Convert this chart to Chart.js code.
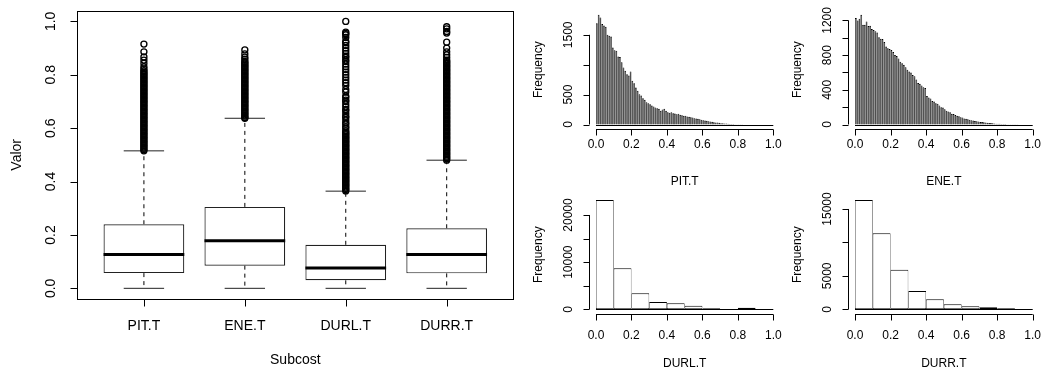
<!DOCTYPE html>
<html>
<head>
<meta charset="utf-8">
<script src="https://cdn.jsdelivr.net/npm/chart.js@4.4.1/dist/chart.umd.min.js"></script>
<style>
  html, body { margin: 0; padding: 0; background: #fff; }
  #wrap { position: relative; width: 1045px; height: 374px; }
  #wrap canvas { position: absolute; left: 0; top: 0; }
</style>
</head>
<body>
<div id="wrap">
  <canvas id="boxChart" width="1045" height="374"></canvas>
  <canvas id="histPit" width="1045" height="374"></canvas>
  <canvas id="histEne" width="1045" height="374"></canvas>
  <canvas id="histDurl" width="1045" height="374"></canvas>
  <canvas id="histDurr" width="1045" height="374"></canvas>
</div>
<script>
// Boxplot data
const subcosts = ['PIT.T', 'ENE.T', 'DURL.T', 'DURR.T'];
const boxLow = [0, 0, 0, 0];
const boxQ1 = [0.057, 0.085, 0.030, 0.056];
const boxMedian = [0.127, 0.178, 0.076, 0.127];
const boxQ3 = [0.240, 0.305, 0.163, 0.225];
const boxHigh = [0.515, 0.637, 0.364, 0.480];

const outPit = [0.515, 0.52, 0.525, 0.53, 0.535, 0.54, 0.545, 0.55, 0.555, 0.56, 0.565, 0.57, 0.575, 0.58, 0.585,
  0.59, 0.595, 0.6, 0.605, 0.61, 0.615, 0.62, 0.625, 0.63, 0.635, 0.64, 0.645, 0.65, 0.655, 0.66, 0.665, 0.67,
  0.675, 0.68, 0.685, 0.69, 0.695, 0.7, 0.705, 0.71, 0.715, 0.72, 0.725, 0.73, 0.735, 0.74, 0.745, 0.75, 0.755,
  0.76, 0.765, 0.77, 0.775, 0.78, 0.785, 0.79, 0.795, 0.8, 0.805, 0.81, 0.815, 0.822, 0.83, 0.843, 0.855, 0.867,
  0.886, 0.915];
const outEne = [0.637, 0.64, 0.645, 0.65, 0.655, 0.66, 0.665, 0.67, 0.675, 0.68, 0.685, 0.69, 0.695, 0.7, 0.705,
  0.71, 0.715, 0.72, 0.725, 0.73, 0.735, 0.74, 0.745, 0.75, 0.755, 0.76, 0.765, 0.77, 0.775, 0.78, 0.785, 0.79,
  0.795, 0.8, 0.805, 0.81, 0.815, 0.82, 0.825, 0.83, 0.835, 0.84, 0.845, 0.85, 0.858, 0.866, 0.878, 0.893];
const outDurl = [0.365, 0.37, 0.375, 0.38, 0.385, 0.39, 0.395, 0.4, 0.405, 0.41, 0.415, 0.42, 0.425, 0.43, 0.435,
  0.44, 0.445, 0.45, 0.455, 0.46, 0.465, 0.47, 0.475, 0.48, 0.485, 0.49, 0.495, 0.5, 0.505, 0.51, 0.515, 0.52,
  0.525, 0.53, 0.535, 0.54, 0.545, 0.55, 0.555, 0.56, 0.565, 0.57, 0.575, 0.58, 0.585, 0.59, 0.6, 0.605, 0.615,
  0.62, 0.63, 0.64, 0.645, 0.655, 0.665, 0.67, 0.68, 0.69, 0.7, 0.705, 0.715, 0.72, 0.735, 0.745, 0.76, 0.77,
  0.78, 0.79, 0.8, 0.81, 0.82, 0.83, 0.84, 0.85, 0.855, 0.865, 0.87, 0.88, 0.89, 0.9, 0.91, 0.92, 0.925, 0.94,
  0.95, 0.955, 0.96, 1.0];
const outDurr = [0.48, 0.485, 0.49, 0.495, 0.5, 0.505, 0.51, 0.515, 0.52, 0.525, 0.53, 0.535, 0.54, 0.545, 0.55,
  0.555, 0.56, 0.565, 0.57, 0.575, 0.58, 0.585, 0.59, 0.595, 0.6, 0.605, 0.61, 0.615, 0.62, 0.625, 0.63, 0.635,
  0.64, 0.645, 0.65, 0.655, 0.66, 0.665, 0.67, 0.675, 0.68, 0.685, 0.69, 0.695, 0.7, 0.705, 0.71, 0.715, 0.72,
  0.725, 0.73, 0.735, 0.74, 0.745, 0.75, 0.755, 0.76, 0.765, 0.77, 0.775, 0.78, 0.785, 0.79, 0.795, 0.8, 0.805,
  0.81, 0.815, 0.82, 0.825, 0.83, 0.835, 0.84, 0.845, 0.85, 0.855, 0.865, 0.875, 0.886, 0.9, 0.922, 0.956, 0.962,
  0.972, 0.98];
const outliers = [outPit, outEne, outDurl, outDurr];

const boxYTicks = [0, 0.2, 0.4, 0.6, 0.8, 1.0];
const boxYLabels = ['0.0', '0.2', '0.4', '0.6', '0.8', '1.0'];

// Histogram data
const fineBreaks = Array.from({ length: 101 }, (_, i) => i / 100);
const coarseBreaks = [0, 0.1, 0.2, 0.3, 0.4, 0.5, 0.6, 0.7, 0.8, 0.9, 1.0];

const pitCounts = [1695, 1835, 1790, 1679, 1656, 1634, 1500, 1483, 1472, 1288,
  1244, 1232, 1138, 1127, 1043, 954, 898, 842, 820, 887,
  731, 692, 619, 563, 508, 485, 441, 413, 374, 357,
  340, 318, 301, 284, 273, 262, 229, 251, 262, 229,
  206, 195, 206, 190, 184, 173, 178, 162, 156, 145,
  145, 134, 128, 123, 117, 106, 100, 95, 89, 78,
  72, 67, 61, 56, 50, 45, 39, 33, 33, 28,
  22, 22, 18, 15, 12, 10, 8, 7, 6, 5,
  4, 3, 3, 2, 2, 2, 1, 1, 1, 1,
  1, 1, 0, 0, 1, 0, 0, 0, 0, 0];
const eneCounts = [1227, 1200, 1219, 1265, 1150, 1150, 1189, 1135, 1140, 1100,
  1090, 1075, 1060, 1005, 990, 985, 950, 900, 880, 870,
  860, 835, 800, 790, 760, 725, 705, 690, 660, 630,
  610, 600, 570, 555, 520, 480, 470, 450, 430, 420,
  330, 310, 300, 270, 265, 245, 240, 220, 200, 195,
  175, 160, 150, 140, 125, 120, 110, 100, 95, 85,
  80, 70, 65, 60, 55, 50, 45, 40, 38, 35,
  30, 28, 25, 22, 20, 18, 16, 14, 12, 10,
  9, 8, 7, 6, 5, 4, 4, 3, 3, 2,
  2, 2, 1, 1, 1, 1, 0, 1, 0, 0];
const durlCounts = [23180, 8695, 3390, 1550, 1270, 770, 210, 80, 330, 80];
const durrCounts = [16345, 11365, 5920, 2735, 1490, 750, 450, 300, 150, 50];

const histXTicks = [0, 0.2, 0.4, 0.6, 0.8, 1.0];
const histXLabels = ['0.0', '0.2', '0.4', '0.6', '0.8', '1.0'];
const pitYTicks = [0, 500, 1000, 1500];
const pitYLabels = ['0', '500', '', '1500'];
const eneYTicks = [0, 200, 400, 600, 800, 1000, 1200];
const eneYLabels = ['0', '', '400', '', '800', '', '1200'];
const durlYTicks = [0, 5000, 10000, 15000, 20000];
const durlYLabels = ['0', '', '10000', '', '20000'];
const durrYTicks = [0, 5000, 10000, 15000];
const durrYLabels = ['0', '5000', '', '15000'];

const FONT = '"Liberation Sans", Arial, Helvetica, sans-serif';

// Axes drawn the way base R does (axis line only between first and last tick)
const rAxes = {
  id: 'rAxes',
  afterDraw(chart, args, o) {
    const ctx = chart.ctx, a = chart.chartArea;
    const sx = chart.scales.x, sy = chart.scales.y;
    const snap = v => Math.round(v) + 0.5;
    ctx.save();
    ctx.strokeStyle = '#000';
    ctx.fillStyle = '#000';
    ctx.lineWidth = 1;
    ctx.font = o.fontSize + 'px ' + FONT;
    ctx.textAlign = 'center';
    ctx.textBaseline = 'middle';

    if (o.frame) {
      ctx.strokeRect(snap(a.left), snap(a.top), Math.round(a.right - a.left), Math.round(a.bottom - a.top));
    }
    if (o.baseline) {
      const yb = snap(sy.getPixelForValue(0));
      ctx.beginPath();
      ctx.moveTo(sx.getPixelForValue(o.baseline[0]), yb);
      ctx.lineTo(sx.getPixelForValue(o.baseline[1]), yb);
      ctx.stroke();
    }

    // x axis
    const yAx = snap(a.bottom);
    const xs = o.xTicks.map(v => sx.getPixelForValue(v));
    ctx.beginPath();
    ctx.moveTo(xs[0], yAx);
    ctx.lineTo(xs[xs.length - 1], yAx);
    xs.forEach(x => { ctx.moveTo(snap(x), yAx); ctx.lineTo(snap(x), yAx + o.tick); });
    ctx.stroke();
    o.xLabels.forEach((t, i) => { if (t) ctx.fillText(t, xs[i], a.bottom + o.xLabelGap); });
    ctx.fillText(o.xTitle, (a.left + a.right) / 2, a.bottom + o.xTitleGap);

    // y axis
    const xAx = snap(a.left);
    const ys = o.yTicks.map(v => sy.getPixelForValue(v));
    ctx.beginPath();
    ctx.moveTo(xAx, ys[0]);
    ctx.lineTo(xAx, ys[ys.length - 1]);
    ys.forEach(y => { ctx.moveTo(xAx, snap(y)); ctx.lineTo(xAx - o.tick, snap(y)); });
    ctx.stroke();
    const rotText = (t, x, y) => {
      ctx.save();
      ctx.translate(x, y);
      ctx.rotate(-Math.PI / 2);
      ctx.fillText(t, 0, 0);
      ctx.restore();
    };
    o.yLabels.forEach((t, i) => { if (t) rotText(t, a.left - o.yLabelGap, ys[i]); });
    rotText(o.yTitle, a.left - o.yTitleGap, (a.top + a.bottom) / 2);
    ctx.restore();
  }
};

Chart.defaults.animation = false;
Chart.defaults.responsive = false;
Chart.defaults.plugins.legend.display = false;
Chart.defaults.plugins.tooltip.enabled = false;

// keep the internal x ticks on the sample positions so bar widths follow the data spacing
const ticksAt = values => axis => { axis.ticks = values.map(v => ({ value: v })); };

// Boxplot
function createBoxplot() {
  const n = subcosts.length;
  const pos = subcosts.map((_, i) => i + 1);
  const half = 0.4, staple = 0.2;
  const medians = [], whiskers = [], staples = [], points = [];
  pos.forEach((p, i) => {
    medians.push({ x: p - half, y: boxMedian[i] }, { x: p + half, y: boxMedian[i] }, { x: p, y: null });
    whiskers.push({ x: p, y: boxQ3[i] }, { x: p, y: boxHigh[i] }, { x: p, y: null },
      { x: p, y: boxQ1[i] }, { x: p, y: boxLow[i] }, { x: p, y: null });
    staples.push({ x: p - staple, y: boxHigh[i] }, { x: p + staple, y: boxHigh[i] }, { x: p, y: null },
      { x: p - staple, y: boxLow[i] }, { x: p + staple, y: boxLow[i] }, { x: p, y: null });
    outliers[i].forEach(v => points.push({ x: p, y: v }));
  });

  new Chart(document.getElementById('boxChart'), {
    type: 'bar',
    data: {
      datasets: [
        {
          type: 'line', data: whiskers, borderColor: '#000', borderWidth: 1, borderDash: [4, 4],
          pointRadius: 0, fill: false, spanGaps: false, order: 4
        },
        {
          type: 'line', data: staples, borderColor: '#222', borderWidth: 1,
          pointRadius: 0, fill: false, spanGaps: false, order: 3
        },
        {
          type: 'bar', data: pos.map((p, i) => ({ x: p, y: [boxQ1[i], boxQ3[i]] })),
          backgroundColor: '#fff', borderColor: '#222', borderWidth: 1.2, borderSkipped: false,
          inflateAmount: 0, barPercentage: 0.8, categoryPercentage: 1, order: 2
        },
        {
          type: 'line', data: medians, borderColor: '#000', borderWidth: 3,
          pointRadius: 0, fill: false, spanGaps: false, order: 1
        },
        {
          type: 'scatter', data: points, pointStyle: 'circle', pointRadius: 3, pointBorderWidth: 1.35,
          pointBorderColor: '#000', pointBackgroundColor: 'rgba(0,0,0,0)', showLine: false, order: 0
        }
      ]
    },
    options: {
      layout: { padding: { left: 77.3, right: 531.7, top: 10.7, bottom: 75 } },
      scales: {
        x: {
          type: 'linear', display: false, offset: false,
          min: 0.5 - 0.04 * n, max: n + 0.5 + 0.04 * n, afterBuildTicks: ticksAt(pos)
        },
        y: { type: 'linear', display: false, min: -0.04, max: 1.04 }
      },
      plugins: {
        rAxes: {
          frame: true, fontSize: 14, tick: 7,
          xTicks: pos, xLabels: subcosts, xLabelGap: 26.8, xTitle: 'Subcost', xTitleGap: 61.3,
          yTicks: boxYTicks, yLabels: boxYLabels, yLabelGap: 26.6, yTitle: 'Valor', yTitleGap: 59.8
        }
      }
    },
    plugins: [rAxes]
  });
}

// Histogram
function createHistogram(id, breaks, counts, yTicks, yLabels, title, padding, xLabelGap, xTitleGap) {
  const top = Math.max(...counts);
  const lo = breaks[0], hi = breaks[breaks.length - 1], span = hi - lo;
  const thin = counts.length > 20;
  const centers = counts.map((c, i) => (breaks[i] + breaks[i + 1]) / 2);
  new Chart(document.getElementById(id), {
    type: 'bar',
    data: {
      datasets: [{
        data: counts.map((c, i) => ({ x: centers[i], y: c })),
        backgroundColor: thin ? '#3a3a3a' : '#fff',
        borderColor: '#000',
        borderWidth: thin ? { top: 1, bottom: 0, left: 0.45, right: 0.45 } : { top: 1, bottom: 1, left: 0.6, right: 0.6 },
        borderSkipped: false,
        inflateAmount: 0,
        barPercentage: 1,
        categoryPercentage: 1
      }]
    },
    options: {
      layout: { padding },
      scales: {
        x: {
          type: 'linear', display: false, offset: false,
          min: lo - 0.04 * span, max: hi + 0.04 * span, afterBuildTicks: ticksAt(centers)
        },
        y: { type: 'linear', display: false, min: -0.04 * top, max: 1.04 * top }
      },
      plugins: {
        rAxes: {
          frame: false, baseline: [lo, hi], fontSize: 12, tick: 6,
          xTicks: histXTicks, xLabels: histXLabels, xLabelGap, xTitle: title, xTitleGap,
          yTicks, yLabels, yLabelGap: 20.5, yTitle: 'Frequency', yTitleGap: 50.5
        }
      }
    },
    plugins: [rAxes]
  });
}

createBoxplot();
createHistogram('histPit', fineBreaks, pitCounts, pitYTicks, pitYLabels, 'PIT.T',
  { left: 588.9, right: 264.6, top: 10.4, bottom: 245.1 }, 16, 53);
createHistogram('histEne', fineBreaks, eneCounts, eneYTicks, eneYLabels, 'ENE.T',
  { left: 847.9, right: 5.2, top: 10.4, bottom: 245.1 }, 16, 53);
createHistogram('histDurl', coarseBreaks, durlCounts, durlYTicks, durlYLabels, 'DURL.T',
  { left: 588.9, right: 264.6, top: 195.6, bottom: 60.3 }, 22, 49.5);
createHistogram('histDurr', coarseBreaks, durrCounts, durrYTicks, durrYLabels, 'DURR.T',
  { left: 847.9, right: 5.2, top: 195.6, bottom: 60.3 }, 22, 49.5);
</script>
</body>
</html>
